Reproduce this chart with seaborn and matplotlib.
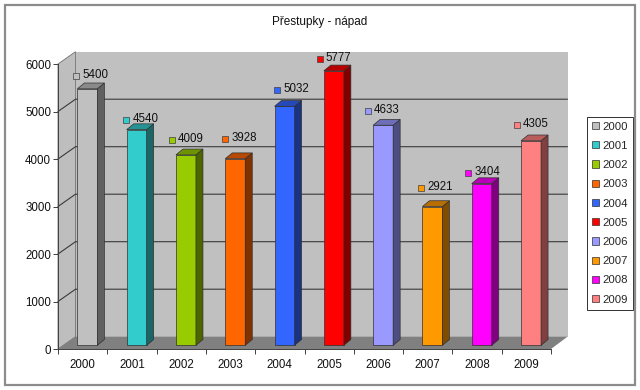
import matplotlib
matplotlib.use('Agg')
import matplotlib.pyplot as plt
from matplotlib.patches import Polygon, Rectangle
import pandas as pd
import seaborn as sns

years = ['2000', '2001', '2002', '2003', '2004', '2005', '2006', '2007', '2008', '2009']
values = [5400, 4540, 4009, 3928, 5032, 5777, 4633, 2921, 3404, 4305]
colors = ['#C0C0C0', '#33CCCC', '#99CC00', '#FF6600', '#3366FF',
          '#FF0000', '#9999FF', '#FF9900', '#FF00FF', '#FF8080']
y_ticks = [0, 1000, 2000, 3000, 4000, 5000, 6000]

sns.set_theme(style='white')
plt.rcParams['font.family'] = ['Liberation Sans', 'DejaVu Sans']
fs = 8.3

W, H = 640, 390
fig = plt.figure(figsize=(W / 100, H / 100), dpi=100)
ax = fig.add_axes([58 / W, 1 - 349 / H, 493 / W, 285 / H])
ax.set_xlim(-0.5, 9.5)
ax.set_ylim(0, 6000)

# pixels to data units
px = 1 / 49.3
py = 6000 / 285
wall_dx, wall_dy = 17.5 * px, 12.3 * py
bar_dx, bar_dy = 4.7 * px, 3.7 * py
depth_x, depth_y = 7 * px, 5.8 * py
bar_w = 20 * px

# frame round the whole picture
fig.add_artist(Rectangle((5 / W, 1 - 385 / H), 630 / W, 380 / H, transform=fig.transFigure,
                         fill=False, edgecolor='#8C8C8C', linewidth=1.6))

# walls and floor
x0, x1 = -0.5, 9.5
right_dx = 16.5 * px
wall = '#C0C0C0'
ax.add_patch(Polygon([(x0 + wall_dx, wall_dy), (x1 + right_dx, wall_dy),
                      (x1 + right_dx, 6000 + wall_dy), (x0 + wall_dx, 6000 + wall_dy)],
                     facecolor=wall, edgecolor='none', clip_on=False, zorder=0))
ax.add_patch(Polygon([(x0, 0), (x0 + wall_dx, wall_dy), (x0 + wall_dx, 6000 + wall_dy), (x0, 6000)],
                     facecolor='#BEBEBE', edgecolor='#707070', linewidth=0.6, clip_on=False, zorder=0))
ax.add_patch(Polygon([(x0, 0), (x1, 0), (x1 + right_dx, wall_dy), (x0 + wall_dx, wall_dy)],
                     facecolor='#808080', edgecolor='none', clip_on=False, zorder=0))
for t in y_ticks[1:-1]:
    ax.plot([x0, x0 + wall_dx, x1 + right_dx], [t, t + wall_dy, t + wall_dy], color='#3A3A3A',
            linewidth=0.8, clip_on=False, zorder=1)

df = pd.DataFrame({'year': years, 'value': values})
sns.barplot(data=df, x='year', y='value', hue='year', palette=colors, dodge=False, width=0.4,
            saturation=1, edgecolor='#303030', linewidth=0.5, legend='full', ax=ax, zorder=3)
ax.set_xlim(-0.5, 9.5)
ax.set_ylim(0, 6000)

# the labels do not sit at one place over their bars (pixels)
label_lift = [13, 10, 15, 20, 16, 12, 14, 19, 11, 16]
label_shift = [0, 1, -3, 1, 4, -3, -4, 0, -2, -3]

for i, (v, c) in enumerate(zip(values, colors)):
    bar = ax.containers[i][0]
    left = i + bar_dx - bar_w / 2
    right = left + bar_w
    base = bar_dy
    top = v + bar_dy
    bar.set_x(left)
    bar.set_width(bar_w)
    bar.set_y(base)
    bar.set_clip_on(False)
    rgb = matplotlib.colors.to_rgb(c)
    side = tuple(p * 0.5 for p in rgb)
    roof = tuple(p * 0.72 for p in rgb)
    ax.add_patch(Polygon([(right, base), (right + depth_x, base + depth_y),
                          (right + depth_x, top + depth_y), (right, top)],
                         facecolor=side, edgecolor='#303030', linewidth=0.5, clip_on=False, zorder=3))
    ax.add_patch(Polygon([(left, top), (right, top), (right + depth_x, top + depth_y),
                          (left + depth_x, top + depth_y)],
                         facecolor=roof, edgecolor='#303030', linewidth=0.5, clip_on=False, zorder=3))
    # data label: colour key and value
    key_x = i + (label_shift[i] - 6.6) * px
    ax.plot(key_x, top + label_lift[i] * py, marker='s', markersize=5, markerfacecolor=c,
            markeredgecolor='#404040', markeredgewidth=0.5, clip_on=False, zorder=4)
    ax.annotate(str(v), (key_x + 6.3 * px, top + (label_lift[i] + 0.8) * py), ha='left', va='center',
                fontsize=fs, color='#111111', annotation_clip=False, zorder=4)

# axes and ticks
for name, spine in ax.spines.items():
    spine.set_visible(name in ('left', 'bottom'))
    spine.set_color('#404040')
    spine.set_linewidth(0.7)
ax.set_xlabel('')
ax.set_ylabel('')
ax.set_yticks(y_ticks)
ax.set_xticks([i - 0.5 for i in range(11)])
ax.set_xticklabels([])
ax.set_xticks(range(10), labels=years, minor=True)
ax.tick_params(axis='x', which='major', bottom=True, length=3.5, width=0.7, color='#404040')
ax.tick_params(axis='x', which='minor', bottom=False, pad=3, labelsize=fs, labelcolor='#111111')
ax.tick_params(axis='y', left=True, length=3.5, width=0.7, color='#404040', pad=1.5,
               labelsize=fs, labelcolor='#111111')

fig.text(320 / W, 1 - 22 / H, 'Přestupky - nápad', ha='center', va='center', fontsize=8.5, color='#111111')

sns.move_legend(ax, 'upper left', bbox_to_anchor=(587 / W, 1 - 116.5 / H),
                bbox_transform=fig.transFigure, title=None, frameon=True, fancybox=False,
                edgecolor='#303030', facecolor='white', framealpha=1, borderaxespad=0,
                fontsize=8.2, handlelength=0.61, handleheight=0.61, handletextpad=0.26,
                labelspacing=0.81, borderpad=0.45)
leg = ax.get_legend()
leg.get_frame().set_linewidth(0.7)

fig.savefig('out.png', dpi=100)
